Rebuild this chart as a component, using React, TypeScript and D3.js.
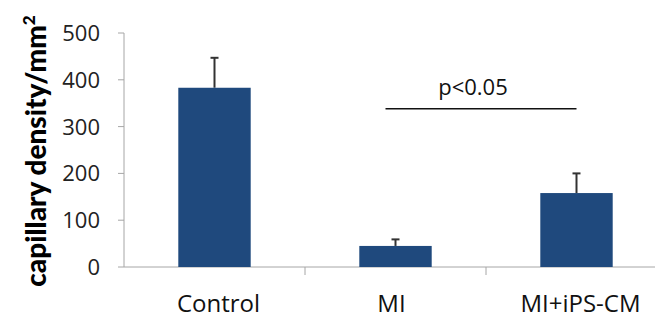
import React from "react";
import * as d3 from "d3";

const categories = ["Control", "MI", "MI+iPS-CM"];
const means = [383, 45, 158];
const errors = [64, 14, 42];
const yTicks = [0, 100, 200, 300, 400, 500];
const sigLabel = "p<0.05";
const sigPair = ["MI", "MI+iPS-CM"];
const sigValue = 338;

export default function App() {
  const W = 660, H = 320;
  const left = 124, right = 667, top = 33, bottom = 267;
  const x = d3.scaleBand<string>().domain(categories).range([left, right]).paddingInner(0.6).paddingOuter(0.3);
  const band = d3.scaleBand<string>().domain(categories).range([left, right]);
  const y = d3.scaleLinear().domain([0, 500]).range([bottom, top]);
  const font = "'Open Sans', sans-serif";
  const titleFont = "Lato, sans-serif";
  const barColor = "#1F497D";
  const axisColor = "#A6A6A6";
  const sx1 = x(sigPair[0])! + x.bandwidth() / 2 - 10;
  const sx2 = x(sigPair[1])! + x.bandwidth() / 2;
  return (
    <svg width={W} height={H} style={{ position: "absolute", left: 0, top: 0, background: "#fff" }}>
      {/* y axis */}
      <line x1={left} x2={left} y1={top} y2={bottom} stroke={axisColor} strokeWidth={1} />
      {yTicks.map((t) => (
        <g key={t}>
          <line x1={left - 6} x2={left} y1={y(t)} y2={y(t)} stroke={axisColor} />
          <text x={100} y={y(t)} dy="0.36em" textAnchor="end" fontFamily={font} fontSize={22} fill="#222">
            {t}
          </text>
        </g>
      ))}
      {/* x axis */}
      <line x1={left} x2={655} y1={bottom} y2={bottom} stroke={axisColor} />
      {categories.slice(1).map((c) => (
        <line key={c} x1={band(c)!} x2={band(c)!} y1={bottom} y2={bottom + 8} stroke={axisColor} />
      ))}
      {/* bars */}
      {categories.map((c, i) => {
        const cx = x(c)! + x.bandwidth() / 2;
        return (
          <g key={c}>
            <line x1={cx} x2={cx} y1={y(means[i])} y2={y(means[i] + errors[i])} stroke="#333" strokeWidth={2} />
            <line x1={cx - 4} x2={cx + 4} y1={y(means[i] + errors[i])} y2={y(means[i] + errors[i])} stroke="#333" strokeWidth={2} />
            <rect x={x(c)!} y={y(means[i])} width={x.bandwidth()} height={bottom - y(means[i])} fill={barColor} />
            <text x={cx + (i === 0 ? 4 : i === 1 ? -4 : 4)} y={312} textAnchor="middle" fontFamily={font} fontSize={24} fill="#111">
              {c}
            </text>
          </g>
        );
      })}
      {/* significance */}
      <line x1={sx1} x2={sx2} y1={y(sigValue)} y2={y(sigValue)} stroke="#111" strokeWidth={1.5} />
      <text x={(sx1 + sx2) / 2 - 8} y={y(sigValue) - 14} textAnchor="middle" fontFamily={font} fontSize={22} fill="#111">
        {sigLabel}
      </text>
      {/* y title */}
      <text transform={`translate(46,151) rotate(-90)`} textAnchor="middle" fontFamily={titleFont} fontSize={28} fontWeight={900} fill="#000">
        capillary density/mm<tspan dy={-11} fontSize={17}>2</tspan>
      </text>
    </svg>
  );
}
